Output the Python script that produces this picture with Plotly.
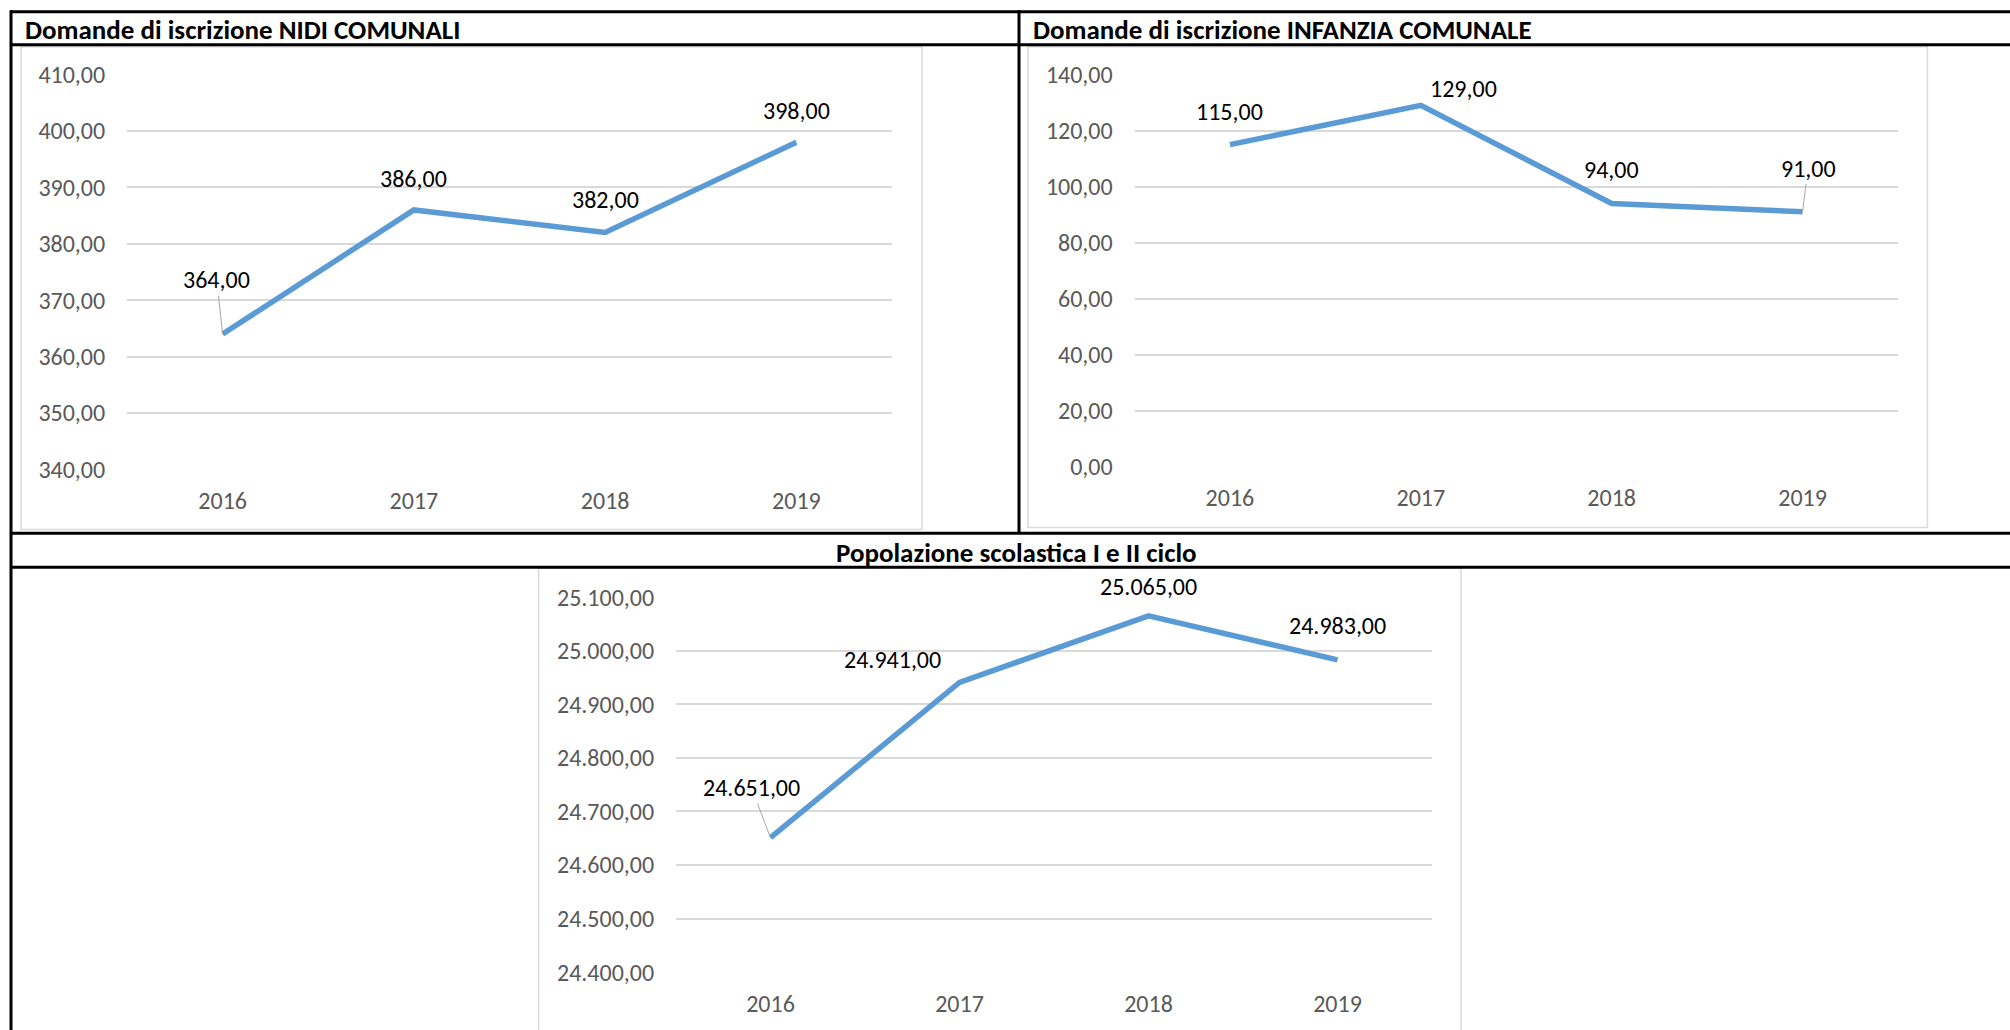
import plotly.graph_objects as go

W, H = 2010, 1030

years = ["2016", "2017", "2018", "2019"]
nidi = [364, 386, 382, 398]
infanzia = [115, 129, 94, 91]
popolazione = [24651, 24941, 25065, 24983]

titles = ["Domande di iscrizione NIDI COMUNALI",
          "Domande di iscrizione INFANZIA COMUNALE",
          "Popolazione scolastica I e II ciclo"]
y_ranges = [(340, 410, 10), (0, 140, 20), (24400, 25100, 100)]

FONT = "Carlito, Lato, sans-serif"
LINE_COLOR = "#5b9bd5"
GRID = "#d9d9d9"
TICK_COLOR = "#595959"
TICK_SIZE = 24
TITLE_SIZE = 27

# the photographed page shows the figure slightly squeezed vertically;
# compensate so the final picture lands on the target pixel rows
Y_OFF, Y_SCALE = 13.3, 0.974


def Y(y):
    return (y - Y_OFF) / Y_SCALE


def px(x):
    return x / W


def py(y):
    return 1 - Y(y) / H


def fmt(v):
    s = f"{v:,.2f}"
    return s.replace(",", "X").replace(".", ",").replace("X", ".")


# plot areas in target pixels: (left, right, top, bottom)
areas = [(127, 892, 73, 468.7), (1134.5, 1898, 73, 466), (676, 1432, 596.7, 972.7)]
series = [nidi, infanzia, popolazione]

fig = go.Figure()
layout = dict(width=W, height=H, margin=dict(l=0, r=0, t=0, b=0),
              paper_bgcolor="white", plot_bgcolor="white",
              showlegend=False, separators=",.",
              font=dict(family=FONT, size=TICK_SIZE, color=TICK_COLOR))

for i, (vals, area, yr) in enumerate(zip(series, areas, y_ranges)):
    n = "" if i == 0 else str(i + 1)
    fig.add_trace(go.Scatter(x=years, y=vals, mode="lines",
                             line=dict(color=LINE_COLOR, width=5.5),
                             xaxis="x" + n, yaxis="y" + n, hoverinfo="skip"))
    l, r, t, b = area
    layout["xaxis" + n] = dict(domain=[px(l), px(r)], type="category",
                               range=[-0.5, 3.5], showgrid=False, zeroline=False,
                               showline=False, ticks="outside", ticklen=10,
                               tickcolor="rgba(0,0,0,0)", anchor="y" + n,
                               tickfont=dict(family=FONT, size=TICK_SIZE, color=TICK_COLOR),
                               fixedrange=True)
    layout["yaxis" + n] = dict(domain=[py(b), py(t)], range=[yr[0], yr[1]],
                               dtick=yr[2], tick0=yr[0], tickformat=",.2f",
                               showgrid=True, gridcolor=GRID, gridwidth=1.5,
                               zeroline=False, showline=False, ticks="outside",
                               ticklen=16, tickcolor="rgba(0,0,0,0)",
                               anchor="x" + n,
                               tickfont=dict(family=FONT, size=TICK_SIZE, color=TICK_COLOR),
                               fixedrange=True)

fig.update_layout(**layout)

# data labels: (dx, dy) pixel offsets, leader flag
label_pos = [
    [(-6, -53, True), (0, -31, False), (0, -32.6, False), (0, -31, False)],
    [(0, -32, False), (43, -16, False), (0, -32.7, False), (5.5, -42.5, True)],
    [(-19, -48.6, True), (-67, -22, False), (0, -29, False), (0, -33, False)],
]
annotations = []
for i, vals in enumerate(series):
    n = "" if i == 0 else str(i + 1)
    for j, v in enumerate(vals):
        dx, dy, leader = label_pos[i][j]
        dy = dy / Y_SCALE
        a = dict(x=j, y=v, xref="x" + n, yref="y" + n, text=fmt(v),
                 font=dict(family=FONT, size=TICK_SIZE, color="#000000"))
        if leader:
            a.update(showarrow=True, ax=dx, ay=dy, arrowhead=0, arrowwidth=1,
                     arrowcolor="#a6a6a6", standoff=0, startstandoff=0)
        else:
            a.update(showarrow=False, xshift=dx, yshift=-dy)
        annotations.append(a)

# titles
annotations.append(dict(x=px(23), y=py(27.5), xref="paper", yref="paper",
                        text="<b>" + titles[0] + "</b>", showarrow=False,
                        xanchor="left", yanchor="middle",
                        font=dict(family=FONT, size=TITLE_SIZE, color="#000000")))
annotations.append(dict(x=px(1031), y=py(27.5), xref="paper", yref="paper",
                        text="<b>" + titles[1] + "</b>", showarrow=False,
                        xanchor="left", yanchor="middle",
                        font=dict(family=FONT, size=TITLE_SIZE, color="#000000")))
annotations.append(dict(x=px(1017), y=py(551.7), xref="paper", yref="paper",
                        text="<b>" + titles[2] + "</b>", showarrow=False,
                        xanchor="center", yanchor="middle",
                        font=dict(family=FONT, size=TITLE_SIZE, color="#000000")))
fig.update_layout(annotations=annotations)

shapes = []


def hline(y, x0, x1, w=3, c="#000000"):
    shapes.append(dict(type="line", xref="paper", yref="paper", x0=px(x0), x1=px(x1),
                       y0=py(y), y1=py(y), line=dict(color=c, width=w)))


def vline(x, y0, y1, w=3, c="#000000"):
    shapes.append(dict(type="line", xref="paper", yref="paper", x0=px(x), x1=px(x),
                       y0=py(y0), y1=py(y1), line=dict(color=c, width=w)))


def rect(x0, y0, x1, y1):
    shapes.append(dict(type="rect", xref="paper", yref="paper", x0=px(x0), x1=px(x1),
                       y0=py(y1), y1=py(y0), line=dict(color=GRID, width=1.5),
                       layer="below"))


rect(21, 45, 922, 529)
rect(1028, 45, 1927.5, 527)
rect(538.6, 567.7, 1461, 1060)

hline(10, 10, 2010)
hline(43, 10, 2010)
hline(532.7, 10, 2010)
hline(566.7, 10, 2010)
vline(11, 8.5, 1060)
vline(1019, 8.5, 533)

fig.update_layout(shapes=shapes)

fig.write_html("out.html", config={"displayModeBar": False},
               post_script="document.body.style.margin='0';"
                           "document.body.style.padding='0';"
                           "document.documentElement.style.overflow='hidden';"
                           "document.body.style.overflow='hidden';"
                           "var d=document.getElementById('{plot_id}');"
                           "d.style.position='fixed';d.style.top='0px';d.style.left='0px';")
